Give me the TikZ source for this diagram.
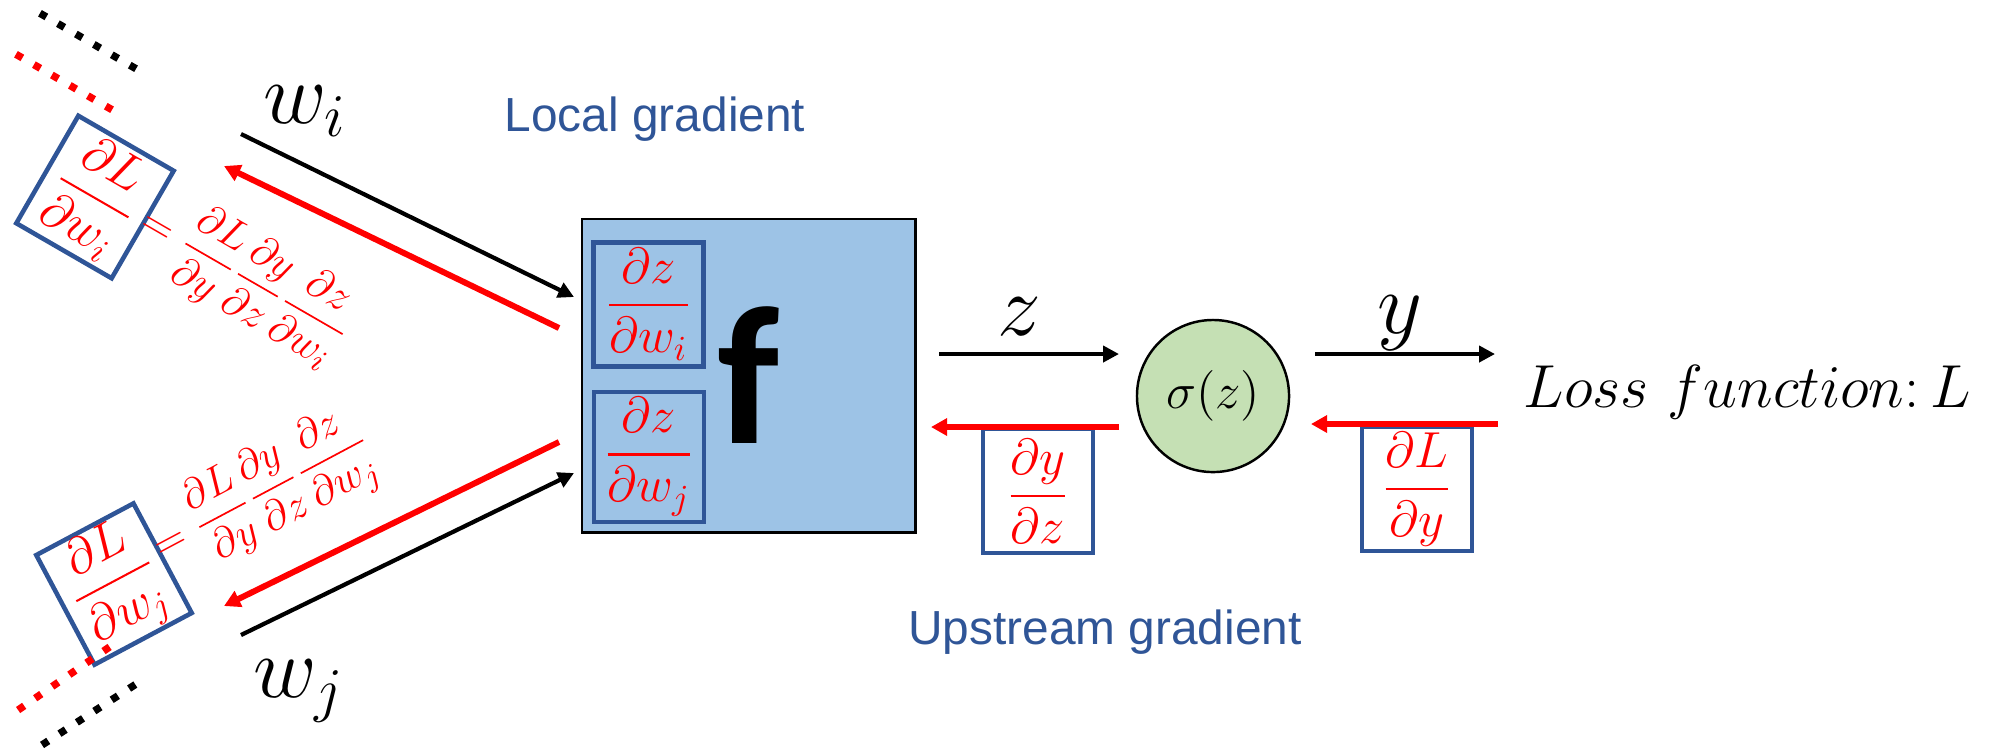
\documentclass[tikz,border=0pt]{standalone}
\usepackage{amsmath}
\usepackage{fontspec}
\usepackage{xcolor}
\usepackage{tikz}
\usetikzlibrary{arrows.meta, positioning}
\newfontfamily\labelfont{Liberation Sans}
\newfontfamily\bigfont{Carlito}
\definecolor{boxblue}{HTML}{2F5597}
\definecolor{fillblue}{HTML}{9DC3E6}
\definecolor{fillgreen}{HTML}{C5E0B4}
\definecolor{gradred}{HTML}{FF0000}

\begin{document}
\begin{tikzpicture}[x=0.01cm, y=-0.01cm,
		fwd/.style={line width=1.2pt, -{Triangle[length=4.5pt, width=4.5pt]}},
		bwd/.style={gradred, line width=1.7pt, -{Triangle[length=4.6pt, width=4.8pt]}},
		gradbox/.style={draw=boxblue, line width=1.3pt, minimum width=1.1cm, minimum height=1.24cm, inner sep=0pt, text=gradred, font=\fontsize{14}{16}\selectfont},
		chain/.style={inner sep=0pt, text=gradred, font=\fontsize{13}{15}\selectfont},
		dotrow/.style={line width=2.1pt, dash pattern=on 2.1pt off 3.8pt, shorten <=-1pt, shorten >=-1pt},
		varlabel/.style={anchor=base, inner sep=0pt, font=\fontsize{27}{30}\selectfont},
		note/.style={anchor=base, inner sep=0pt, text=boxblue, font=\labelfont\fontsize{13.6}{16}\selectfont}]
	\useasboundingbox (0,0) rectangle (2013,753);
	% Blocks:
	\node[draw, fill=fillblue, line width=0.8pt, minimum width=3.33cm, minimum height=3.13cm, font=\bigfont\bfseries\fontsize{56}{60}\selectfont] (fbox) at (748.5,375.5) {f};
	\node[gradbox] (dzwi) at (648.5,304.5) {$\dfrac{\partial z}{\partial w_i}$};
	\node[gradbox, minimum height=1.3cm] (dzwj) at (649,457) {$\dfrac{\partial z}{\partial w_j}$};
	\node[circle, draw, fill=fillgreen, line width=0.7pt, minimum size=1.52cm, inner sep=0pt, font=\fontsize{15}{17}\selectfont] (sig) at (1213,396) {$\sigma(z)$};
	\node[gradbox] (dydz) at (1038,491) {$\dfrac{\partial y}{\partial z}$};
	\node[gradbox] (dLdy) at (1417,489) {$\dfrac{\partial L}{\partial y}$};
	\node[anchor=base west, inner sep=0pt, font=\fontsize{18}{20}\selectfont] (loss) at (1523,407) {$Loss\ function{:}\,L$};

	% Left side, chain rule:
	\node[gradbox, rotate=-30] (dLwi) at (95,197) {$\dfrac{\partial L}{\partial w_i}$};
	\node[gradbox, rotate=28] (dLwj) at (114,584) {$\dfrac{\partial L}{\partial w_j}$};
	\node[chain, rotate=-30] (eqi) at (245,278) {$=\dfrac{\partial L}{\partial y}\dfrac{\partial y}{\partial z}\dfrac{\partial z}{\partial w_i}$};
	\node[chain, rotate=28] (eqj) at (263,496) {$=\dfrac{\partial L}{\partial y}\dfrac{\partial y}{\partial z}\dfrac{\partial z}{\partial w_j}$};

	% Labels:
	\node[varlabel, anchor=base west] (wi) at (263,123) {$w_i$};
	\node[varlabel, anchor=base west] (wj) at (253,697) {$w_j$};
	\node[varlabel] (zlab) at (1019,335) {$z$};
	\node[varlabel] (ylab) at (1400,333) {$y$};
	\node[note] (local) at (655,131) {Local gradient};
	\node[note] (up) at (1105,644) {Upstream gradient};

	% Arrows:
	\coordinate (wiA) at (241,134);   \coordinate (wiB) at (574,297);
	\coordinate (riA) at (559,328);   \coordinate (riB) at (224,166);
	\coordinate (wjA) at (241,635);   \coordinate (wjB) at (574,473);
	\coordinate (rjA) at (559,442);   \coordinate (rjB) at (224,606);
	\coordinate (zA) at (939,354);    \coordinate (zB) at (1119,354);
	\coordinate (rzA) at (1119,427);  \coordinate (rzB) at (931,427);
	\coordinate (yA) at (1315,354);   \coordinate (yB) at (1495,354);
	\coordinate (ryA) at (1498,424);  \coordinate (ryB) at (1311,424);
	\draw[fwd] (wiA) -- (wiB);
	\draw[bwd] (riA) -- (riB);
	\draw[fwd] (wjA) -- (wjB);
	\draw[bwd] (rjA) -- (rjB);
	\draw[fwd] (zA) -- (zB);
	\draw[bwd] (rzA) -- (rzB);
	\draw[fwd] (yA) -- (yB);
	\draw[bwd] (ryA) -- (ryB);

	% Dotted continuation:
	\coordinate (dt1) at (43,15);   \coordinate (dt2) at (133,67);
	\coordinate (dt3) at (19,56);   \coordinate (dt4) at (109,108);
	\coordinate (db1) at (21,708);  \coordinate (db2) at (108,648);
	\coordinate (db3) at (45,743);  \coordinate (db4) at (133,686);
	\draw[dotrow] (dt1) -- (dt2);
	\draw[dotrow, gradred] (dt3) -- (dt4);
	\draw[dotrow, gradred] (db1) -- (db2);
	\draw[dotrow] (db3) -- (db4);
\end{tikzpicture}
\end{document}
